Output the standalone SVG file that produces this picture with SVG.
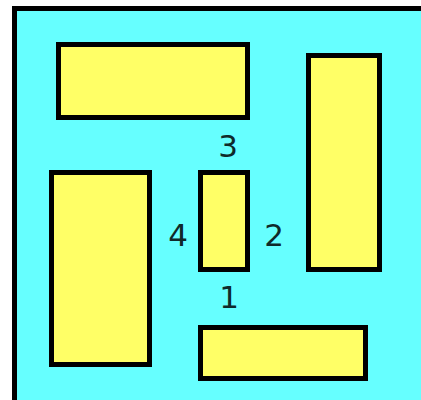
<svg xmlns="http://www.w3.org/2000/svg" width="421" height="400" viewBox="0 0 421 400">
<style>
.box{fill:#ffff66;stroke:#000;stroke-width:5}
.lbl{font-family:"DejaVu Sans",sans-serif;font-size:31px;fill:#0f2a2a;text-anchor:middle}
</style>
<rect width="421" height="400" fill="#fff"/>
<g id="frame"><rect x="14.5" y="8.5" width="420" height="400" fill="#66ffff" stroke="#000" stroke-width="5"/></g>
<g id="rectA"><rect class="box" x="58.5" y="44.5" width="189" height="73"/></g>
<g id="rectB"><rect class="box" x="308.5" y="55.5" width="71" height="214"/></g>
<g id="rectC"><rect class="box" x="200.5" y="327.5" width="165" height="51"/></g>
<g id="rectD"><rect class="box" x="51.5" y="172.5" width="98" height="192"/></g>
<g id="rectE"><rect class="box" x="200.5" y="172.5" width="47" height="97"/></g>
<g id="labels">
<text class="lbl" x="228" y="157">3</text>
<text class="lbl" x="178" y="246">4</text>
<text class="lbl" x="274" y="246">2</text>
<text class="lbl" x="229" y="308">1</text>
</g>
</svg>
